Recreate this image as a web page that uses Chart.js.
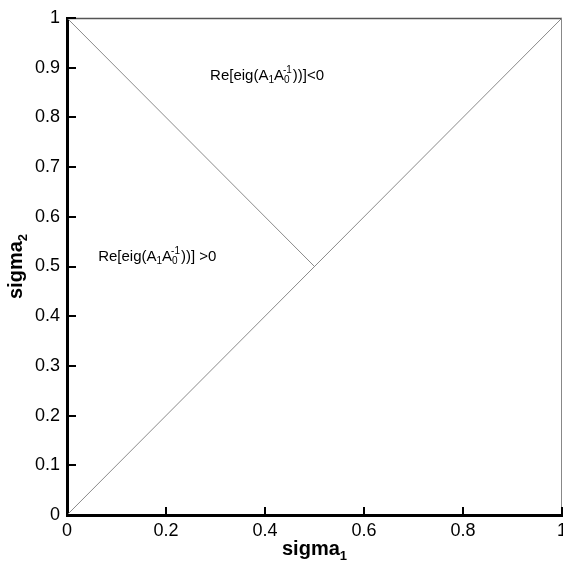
<!DOCTYPE html>
<html>
<head>
<meta charset="utf-8">
<script src="https://cdn.jsdelivr.net/npm/chart.js@4/dist/chart.umd.min.js"></script>
<style>
  body { margin: 0; background: #fff; }
  #wrap { width: 563px; height: 562px; }
</style>
</head>
<body>
<div id="wrap"><canvas id="sigma_chart" width="563" height="562"></canvas></div>
<script>
// boundary lines in the (sigma1, sigma2) plane
var diagonalX = [0, 1];
var diagonalY = [0, 1];
var branchX = [0, 0.5];
var branchY = [1, 0.5];

var xTicks = [0, 0.2, 0.4, 0.6, 0.8, 1];
var yTicks = [0, 0.1, 0.2, 0.3, 0.4, 0.5, 0.6, 0.7, 0.8, 0.9, 1];

// region labels: left edge / middle in data units
var regionLabels = [
    { x: 0.289, y: 0.887, rel: "<0" },
    { x: 0.063, y: 0.523, rel: " >0" }
];

function toPoints(xs, ys) {
    return xs.map(function (x, i) { return { x: x, y: ys[i] }; });
}

var FONT = "'Liberation Sans', Arial, sans-serif";

// write "Re[eig(A1 A0^-1))]..." with sub/superscripts, left edge at x, middle at y
function drawEigLabel(ctx, x, y, rel) {
    var big = "15px " + FONT;
    var small = "10px " + FONT;
    ctx.textBaseline = "alphabetic";
    ctx.textAlign = "left";
    var base = y + 6;
    var cx = x;
    ctx.font = big;
    ctx.fillText("Re[eig(A", cx, base);
    cx += ctx.measureText("Re[eig(A").width;
    ctx.font = small;
    ctx.fillText("1", cx, base + 3);
    cx += ctx.measureText("1").width;
    ctx.font = big;
    ctx.fillText("A", cx, base);
    cx += ctx.measureText("A").width;
    ctx.font = small;
    ctx.fillText("0", cx, base + 3);
    ctx.fillText("-1", cx - 1, base - 7);
    cx += Math.max(ctx.measureText("0").width, ctx.measureText("-1").width - 1) + 1;
    ctx.font = big;
    ctx.fillText("))]" + rel, cx, base);
}

function drawSub(ctx, main, sub, x, y) {
    var big = "bold 20px " + FONT;
    var small = "bold 13px " + FONT;
    ctx.font = big;
    var w1 = ctx.measureText(main).width;
    ctx.font = small;
    var w2 = ctx.measureText(sub).width;
    var start = x - (w1 + w2) / 2;
    ctx.textAlign = "left";
    ctx.textBaseline = "alphabetic";
    ctx.font = big;
    ctx.fillText(main, start, y);
    ctx.font = small;
    ctx.fillText(sub, start + w1, y + 5);
}

var framePlugin = {
    id: "frame",
    afterDraw: function (chart) {
        var ctx = chart.ctx;
        var a = chart.chartArea;
        var xs = chart.scales.x;
        var ys = chart.scales.y;
        ctx.save();

        // top and right frame
        ctx.strokeStyle = "#555";
        ctx.lineWidth = 1.5;
        ctx.beginPath();
        ctx.moveTo(a.left, a.top + 0.5);
        ctx.lineTo(a.right, a.top + 0.5);
        ctx.stroke();
        ctx.strokeStyle = "#888";
        ctx.lineWidth = 1;
        ctx.beginPath();
        ctx.moveTo(a.right - 0.5, a.top);
        ctx.lineTo(a.right - 0.5, a.bottom);
        ctx.stroke();

        // inward ticks
        ctx.strokeStyle = "#000";
        ctx.lineWidth = 2;
        ctx.beginPath();
        xTicks.forEach(function (v) {
            var px = Math.round(xs.getPixelForValue(v));
            ctx.moveTo(px, a.bottom);
            ctx.lineTo(px, a.bottom - 8);
        });
        yTicks.forEach(function (v) {
            var py = Math.round(ys.getPixelForValue(v));
            ctx.moveTo(a.left, py);
            ctx.lineTo(a.left + 9, py);
        });
        ctx.stroke();

        // region labels
        ctx.fillStyle = "#000";
        regionLabels.forEach(function (l) {
            drawEigLabel(ctx, xs.getPixelForValue(l.x), ys.getPixelForValue(l.y), l.rel);
        });

        // axis titles
        drawSub(ctx, "sigma", "1", (a.left + a.right) / 2, 555);
        ctx.translate(22, (a.top + a.bottom) / 2);
        ctx.rotate(-Math.PI / 2);
        drawSub(ctx, "sigma", "2", 0, 0);
        ctx.restore();
    }
};

function fmt(v) {
    return String(Number(v.toFixed(1)));
}

var ctx = document.getElementById("sigma_chart").getContext("2d");

var myChart = new Chart(ctx, {
    type: "scatter",
    data: {
        datasets: [{
            data: toPoints(diagonalX, diagonalY),
            showLine: true,
            borderColor: "#8a8a8a",
            borderWidth: 1,
            pointRadius: 0
        }, {
            data: toPoints(branchX, branchY),
            showLine: true,
            borderColor: "#8a8a8a",
            borderWidth: 1,
            pointRadius: 0
        }]
    },
    options: {
        responsive: false,
        animation: false,
        layout: { padding: { top: 18, right: 1, left: 0, bottom: 0 } },
        plugins: {
            legend: { display: false },
            tooltip: { enabled: false }
        },
        scales: {
            x: {
                type: "linear",
                min: 0,
                max: 1,
                grid: { display: false, drawTicks: false },
                border: { display: true, color: "#000", width: 3 },
                ticks: {
                    stepSize: 0.2,
                    padding: 5,
                    color: "#000",
                    font: { family: FONT, size: 18 },
                    maxRotation: 0,
                    autoSkip: false,
                    callback: fmt
                },
                afterFit: function (s) {
                    s.height = 47;
                    s.paddingLeft = 0;
                    s.paddingRight = 0;
                }
            },
            y: {
                type: "linear",
                min: 0,
                max: 1,
                grid: { display: false, drawTicks: false },
                border: { display: true, color: "#000", width: 3 },
                ticks: {
                    stepSize: 0.1,
                    padding: 7,
                    color: "#000",
                    font: { family: FONT, size: 18 },
                    autoSkip: false,
                    callback: fmt
                },
                afterFit: function (s) {
                    s.width = 67;
                    s.paddingTop = 0;
                    s.paddingBottom = 0;
                }
            }
        }
    },
    plugins: [framePlugin]
});
</script>
</body>
</html>
